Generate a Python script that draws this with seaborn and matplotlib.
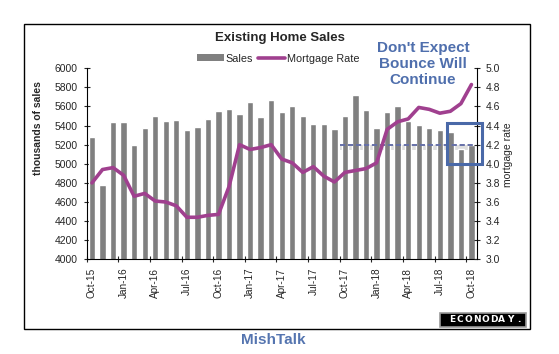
import numpy as np
import pandas as pd
import matplotlib
matplotlib.use('Agg')
import matplotlib.pyplot as plt
from matplotlib.patches import Rectangle, Patch
from matplotlib.lines import Line2D
from matplotlib.ticker import FormatStrFormatter
import seaborn as sns

# --- data ---
months = ['Oct-15', 'Nov-15', 'Dec-15', 'Jan-16', 'Feb-16', 'Mar-16', 'Apr-16', 'May-16',
          'Jun-16', 'Jul-16', 'Aug-16', 'Sep-16', 'Oct-16', 'Nov-16', 'Dec-16', 'Jan-17',
          'Feb-17', 'Mar-17', 'Apr-17', 'May-17', 'Jun-17', 'Jul-17', 'Aug-17', 'Sep-17',
          'Oct-17', 'Nov-17', 'Dec-17', 'Jan-18', 'Feb-18', 'Mar-18', 'Apr-18', 'May-18',
          'Jun-18', 'Jul-18', 'Aug-18', 'Sep-18', 'Oct-18']
sales = [5280, 4780, 5440, 5440, 5200, 5375, 5500, 5450, 5460, 5350, 5390, 5470,
         5555, 5575, 5520, 5650, 5485, 5670, 5545, 5605, 5500, 5415, 5415, 5365,
         5500, 5720, 5565, 5380, 5545, 5600, 5450, 5410, 5375, 5350, 5335, 5150, 5200]
rate = [3.80, 3.94, 3.96, 3.88, 3.66, 3.69, 3.61, 3.60, 3.56, 3.44, 3.44, 3.46,
        3.47, 3.76, 4.20, 4.15, 4.17, 4.20, 4.05, 4.01, 3.91, 3.97, 3.87, 3.81,
        3.91, 3.93, 3.95, 4.01, 4.36, 4.44, 4.47, 4.59, 4.57, 4.53, 4.55, 4.63, 4.83]
tick_labels = months[::3]

# annotation values
ref_level = 5200          # dashed "bounce" line (thousands)
ref_start = 'Oct-17'
box_rate = (4.0, 4.425)   # blue box on the rate axis

df = pd.DataFrame({'month': months, 'sales': sales, 'rate': rate})
df['pos'] = np.arange(len(df))

sns.set_style('ticks')
plt.rcParams['font.family'] = ['Liberation Sans', 'DejaVu Sans']

BAR = '#808080'
LINE = '#a0408f'
BLUE = '#4f6fad'

fig = plt.figure(figsize=(5.59, 3.54), dpi=100)
ax = fig.add_axes([0.1551, 0.2675, 0.6977, 0.5396])

sns.barplot(data=df, x='pos', y='sales', native_scale=True, width=0.6,
            color=BAR, saturation=1, ax=ax, zorder=2)
ax.set_ylim(4000, 6000)
ax.set_xlim(-0.5, len(months) - 0.5)

# dashed reference line with its soft shadow
x0 = months.index(ref_start) - 0.5
x1 = len(months) - 0.8
ax.fill_between([x0, x1], ref_level - 60, ref_level - 8, color='#dedede', lw=0, zorder=1)
ax.plot([x0, x1], [ref_level, ref_level], color='#6670a8', lw=1.4,
        dashes=(2.7, 1.4), zorder=3)

ax2 = ax.twinx()
sns.lineplot(data=df, x='pos', y='rate', color=LINE, lw=2.6, ax=ax2, sort=False)
ax2.set_ylim(3.0, 5.0)
ax2.set_xlim(-0.5, len(months) - 0.5)

ax2.add_patch(Rectangle((33.65, box_rate[0]), 3.35, box_rate[1] - box_rate[0],
                        fill=False, ec='#4a69a8', lw=2.2, clip_on=False, zorder=6))

# axes styling
for a in (ax, ax2):
    a.set_xlabel('')
    a.set_ylabel('')
    a.spines['top'].set_visible(False)
    for s in a.spines.values():
        s.set_color('black')
        s.set_linewidth(0.8)
ax.spines['right'].set_visible(False)
ax2.spines['left'].set_visible(False)
ax2.spines['bottom'].set_visible(False)

ax.set_yticks(np.arange(4000, 6001, 200))
ax.tick_params(axis='y', direction='inout', length=5, width=0.8, labelsize=7.5, pad=4)
ax2.set_yticks(np.arange(3.0, 5.01, 0.2))
ax2.yaxis.set_major_formatter(FormatStrFormatter('%.1f'))
ax2.tick_params(axis='y', direction='inout', length=5, width=0.8, labelsize=7.5, pad=4)

ax.set_xticks(np.arange(-0.5, len(months) - 1, 3))
ax.set_xticks(df['pos'][::3], minor=True)
ax.set_xticklabels(tick_labels, minor=True)
ax.tick_params(axis='x', which='major', direction='inout', length=5, width=0.8,
               labelbottom=False)
ax.tick_params(axis='x', which='minor', length=0, labelsize=7.2, labelrotation=90, pad=6)
ax2.tick_params(axis='x', which='both', bottom=False, top=False, labelbottom=False)

# texts
fig.text(38 / 559, 1 - 128 / 354, 'thousands of sales', rotation=90, fontsize=7.5,
         fontweight='bold', ha='center', va='center')
fig.text(508 / 559, 1 - 155 / 354, 'mortgage rate', rotation=90, fontsize=7.5,
         ha='center', va='center')
fig.text(280 / 559, 1 - 38.5 / 354, 'Existing Home Sales', fontsize=9.5,
         fontweight='bold', ha='center', va='center')
fig.text(423 / 559, 1 - 64 / 354, "Don't Expect\nBounce Will\nContinue", fontsize=11,
         fontweight='bold', color=BLUE, ha='center', va='center', linespacing=1.2,
         multialignment='center')
fig.text(273 / 559, 1 - 339.5 / 354, 'MishTalk', fontsize=11, fontweight='bold',
         color='#5575b0', ha='center', va='center')

handles = [Patch(facecolor=BAR, edgecolor='none'), Line2D([], [], color=LINE, lw=2.6)]
fig.legend(handles, ['Sales', 'Mortgage Rate'], loc='center',
           bbox_to_anchor=(278 / 559, 1 - 58.5 / 354), ncol=2, frameon=False,
           fontsize=7.8, handlelength=2.5, handletextpad=0.2, columnspacing=0.4,
           borderpad=0, handleheight=0.6)

# outer frame
fig.patches.append(Rectangle((23.5 / 559, 1 - 329 / 354), 506 / 559, 305.5 / 354,
                             transform=fig.transFigure, fill=False, ec='black', lw=1))

# ECONODAY badge
fig.patches.append(Rectangle((440 / 559, 1 - 327 / 354), 86 / 559, 14 / 354,
                             transform=fig.transFigure, fc='black', ec='#9a9a9a', lw=1.2))
for i, ch in enumerate('ECONODAY.'):
    fig.text((452 + i * 8.3) / 559, 1 - 320 / 354, ch, color='white', fontsize=6.5,
             fontweight='bold', ha='center', va='center', family='DejaVu Sans')

fig.savefig('out.png', dpi=100)
